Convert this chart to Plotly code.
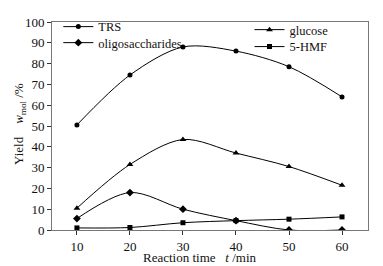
import plotly.graph_objects as go

time_min = [10, 20, 30, 40, 50, 60]
trs = [50.5, 74.5, 88.0, 86.0, 78.5, 64.0]
oligosaccharides = [5.5, 18.0, 10.0, 4.5, 0.0, 0.0]
glucose = [10.5, 31.5, 43.5, 37.0, 30.5, 21.5]
hmf = [1.0, 1.2, 3.5, 4.5, 5.2, 6.3]

x_ticks = [10, 20, 30, 40, 50, 60]
y_ticks = [0, 10, 20, 30, 40, 50, 60, 70, 80, 90, 100]

FONT = "Liberation Serif, Times New Roman, serif"
fig = go.Figure()

def add(name, ys, symbol, size, legend):
    fig.add_trace(go.Scatter(
        x=time_min, y=ys, name=name, mode="lines+markers",
        line=dict(color="black", width=1, shape="spline", smoothing=0.9),
        marker=dict(symbol=symbol, size=size, color="black"),
        legend=legend, showlegend=True,
    ))

add("TRS", trs, "circle", 5, "legend")
add("oligosaccharides", oligosaccharides, "diamond", 6, "legend2")
add("glucose", glucose, "triangle-up", 6, "legend3")
add("5-HMF", hmf, "square", 5, "legend4")

axis_common = dict(
    showgrid=False, zeroline=False, showline=True, linecolor="#777", linewidth=1,
    mirror=True, ticks="outside", ticklen=4, tickcolor="#333",
    tickfont=dict(family=FONT, size=13, color="#111"),
)

def leg(x, y):
    return dict(x=x, y=y, xanchor="left", yanchor="middle",
                bgcolor="rgba(0,0,0,0)", font=dict(family=FONT, size=12.5, color="#111"),
                tracegroupgap=0, itemwidth=30)

fig.update_layout(
    width=375, height=258,
    margin=dict(l=44, r=15, t=14, b=36, autoexpand=False),
    showlegend=True,
    paper_bgcolor="white", plot_bgcolor="white",
    font=dict(family=FONT, size=12, color="#111"),
    xaxis=dict(range=[5.3, 64.9], tickvals=x_ticks, **axis_common),
    yaxis=dict(range=[0, 100], tickvals=y_ticks, **axis_common),
    legend=leg(0.02, 0.976),
    legend2=leg(0.02, 0.899),
    legend3=leg(0.625, 0.9615),
    legend4=leg(0.625, 0.88),
    annotations=[
        dict(text="Yield&nbsp;&nbsp;&nbsp;&nbsp;<i>w</i><sub>mol</sub> /%", textangle=-90,
             xref="paper", yref="paper", x=-0.101, y=0.51, xanchor="center", yanchor="middle",
             showarrow=False, font=dict(family=FONT, size=13, color="#111")),
        dict(text="Reaction time&nbsp;&nbsp;&nbsp;<i>t</i> /min",
             xref="paper", yref="paper", x=0.468, y=-0.13, xanchor="center", yanchor="middle",
             showarrow=False, font=dict(family=FONT, size=13, color="#111")),
    ],
)

fig.write_html("out.html")
